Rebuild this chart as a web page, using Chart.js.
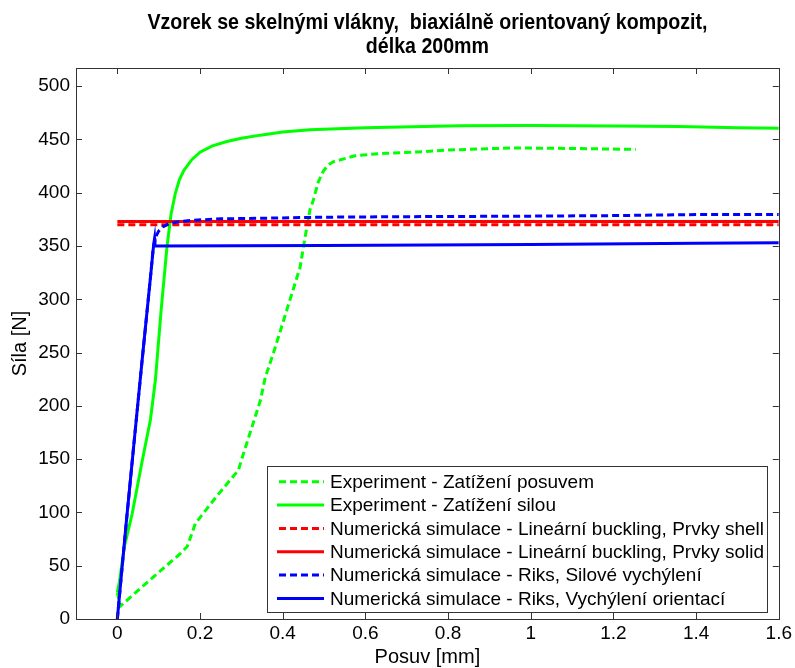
<!DOCTYPE html>
<html>
<head>
<meta charset="utf-8">
<script src="https://cdn.jsdelivr.net/npm/chart.js@4.4.1/dist/chart.umd.min.js"></script>
<style>
html,body{margin:0;padding:0;background:#fff;}
#wrap{width:795px;height:668px;position:relative;}
</style>
</head>
<body>
<div id="wrap"><canvas id="c" width="795" height="668"></canvas></div>
<script>
// ---- Data ----
const titleLines = ["Vzorek se skelnými vlákny,  biaxiálně orientovaný kompozit,", "délka 200mm"];
const xAxisLabel = "Posuv [mm]";
const yAxisLabel = "Síla [N]";
const xTicks = [0, 0.2, 0.4, 0.6, 0.8, 1.0, 1.2, 1.4, 1.6];
const yTicks = [0, 50, 100, 150, 200, 250, 300, 350, 400, 450, 500];

const seriesLabels = [
  "Experiment - Zatížení posuvem",
  "Experiment - Zatížení silou",
  "Numerická simulace - Lineární buckling, Prvky shell",
  "Numerická simulace - Lineární buckling, Prvky solid",
  "Numerická simulace - Riks, Silové vychýlení",
  "Numerická simulace - Riks, Vychýlení orientací"
];

const expPosuvX = [0, 0.007, 0.08, 0.153, 0.169, 0.189, 0.24, 0.293, 0.30, 0.346, 0.358, 0.378, 0.41, 0.442, 0.455, 0.466, 0.474, 0.486, 0.498, 0.51, 0.522, 0.55, 0.579, 0.65, 0.715, 0.8, 0.956, 1.1, 1.254];
const expPosuvY = [25, 12, 37, 61.6, 68, 89.8, 115, 139.8, 149, 205, 227, 250, 290, 330, 360, 384, 393, 410, 420, 426, 429, 432, 435, 437, 438, 440, 442, 441.5, 440.6];

const expSilouX = [0, 0.005, 0.017, 0.036, 0.06, 0.08, 0.092, 0.106, 0.12, 0.13, 0.14, 0.15, 0.161, 0.18, 0.2, 0.23, 0.265, 0.3, 0.346, 0.4, 0.466, 0.6, 0.828, 1.0, 1.2, 1.359, 1.5, 1.6];
const expSilouY = [25, 35, 68, 99, 148, 187, 224, 290, 349, 380, 399, 412, 421, 431, 438, 444, 448, 451, 454, 457, 459, 461, 462.8, 463, 462.5, 462, 461, 460.5];

const shellX = [0, 1.6];
const shellY = [370, 370];

const solidX = [0, 1.6];
const solidY = [373, 373];

const riksSilX = [0, 0.02, 0.04, 0.06, 0.08, 0.086, 0.092, 0.1, 0.11, 0.125, 0.145, 0.177, 0.25, 0.35, 0.5, 0.7, 1.0, 1.2, 1.4, 1.6];
const riksSilY = [0, 84, 164, 243, 320, 345, 358, 364, 368, 371, 372.5, 374, 375.5, 376, 377, 377.5, 378, 378.5, 379.5, 379.5];

const riksOriX = [0, 0.02, 0.04, 0.06, 0.08, 0.088, 0.09, 0.091, 0.5, 1.0, 1.4, 1.6];
const riksOriY = [0, 84, 164, 243, 320, 352, 357, 350, 350.5, 351.5, 352.5, 353];

// ---- Build datasets ----
function pts(xs, ys){ return xs.map((x,i)=>({x:x, y:ys[i]})); }
const GREEN = "#00ff00", RED = "#ff0000", BLUE = "#0000ff";
const seriesData = [
  [expPosuvX, expPosuvY, GREEN, true],
  [expSilouX, expSilouY, GREEN, false],
  [shellX, shellY, RED, true],
  [solidX, solidY, RED, false],
  [riksSilX, riksSilY, BLUE, true],
  [riksOriX, riksOriY, BLUE, false]
];
const datasets = seriesData.map((s, i) => ({
  label: seriesLabels[i],
  data: pts(s[0], s[1]),
  borderColor: s[2],
  backgroundColor: s[2],
  borderWidth: 3,
  borderDash: s[3] ? [7, 4] : [],
  pointRadius: 0,
  tension: 0,
  fill: false,
  order: seriesData.length - i
}));

const FONT = "'Liberation Sans', Arial, sans-serif";
const AXC = "#333333";

const framePlugin = {
  id: 'frame',
  afterDraw(chart){
    const ctx = chart.ctx, a = chart.chartArea;
    const xs = chart.scales.x, ys = chart.scales.y;
    ctx.save();
    // box
    ctx.strokeStyle = AXC; ctx.lineWidth = 1;
    ctx.strokeRect(Math.round(a.left)+0.5, Math.round(a.top)+0.5, Math.round(a.right-a.left), Math.round(a.bottom-a.top));
    // inward ticks
    const tl = 6;
    ctx.beginPath();
    xTicks.forEach(v => {
      const px = Math.round(xs.getPixelForValue(v)) + 0.5;
      ctx.moveTo(px, a.bottom); ctx.lineTo(px, a.bottom - tl);
      ctx.moveTo(px, a.top); ctx.lineTo(px, a.top + tl);
    });
    yTicks.forEach(v => {
      const py = Math.round(ys.getPixelForValue(v)) + 0.5;
      ctx.moveTo(a.left, py); ctx.lineTo(a.left + tl, py);
      ctx.moveTo(a.right, py); ctx.lineTo(a.right - tl, py);
    });
    ctx.stroke();

    // title (condensed bold)
    ctx.fillStyle = "#000";
    ctx.textAlign = "center"; ctx.textBaseline = "middle";
    ctx.font = "bold 22px " + FONT;
    const cx = (a.left + a.right) / 2;
    const w0 = ctx.measureText(titleLines[0]).width;
    const sx = 560 / w0;
    ctx.save();
    ctx.translate(cx, 0);
    ctx.scale(sx, 1);
    ctx.fillText(titleLines[0], 0, 23);
    ctx.fillText(titleLines[1], 0, 47);
    ctx.restore();

    // axis titles
    ctx.font = "20px " + FONT;
    ctx.fillText(xAxisLabel, cx, 657);
    ctx.save();
    ctx.translate(20, (a.top + a.bottom) / 2);
    ctx.rotate(-Math.PI / 2);
    ctx.fillText(yAxisLabel, 0, 0);
    ctx.restore();

    // legend
    const L = {x: 267, y: 466, w: 500, h: 146};
    ctx.fillStyle = "#fff";
    ctx.fillRect(L.x, L.y, L.w, L.h);
    ctx.strokeStyle = AXC; ctx.lineWidth = 1;
    ctx.strokeRect(L.x + 0.5, L.y + 0.5, L.w, L.h);
    ctx.font = "19px " + FONT;
    ctx.textAlign = "left"; ctx.textBaseline = "middle";
    chart.data.datasets.forEach((ds, i) => {
      const yy = 481.7 + i * 23.35;
      ctx.strokeStyle = ds.borderColor; ctx.lineWidth = 3;
      ctx.setLineDash(ds.borderDash.length ? [7, 4] : []);
      ctx.beginPath();
      ctx.moveTo(ds.borderDash.length ? 279 : 277, yy);
      ctx.lineTo(324, yy);
      ctx.stroke();
      ctx.setLineDash([]);
      ctx.fillStyle = "#000";
      ctx.fillText(ds.label, 330, yy + 1);
    });
    ctx.restore();
  }
};

new Chart(document.getElementById('c'), {
  type: 'line',
  data: { datasets: datasets },
  options: {
    responsive: false,
    animation: false,
    parsing: true,
    layout: { padding: { left: 0, right: 15, top: 68, bottom: 0 } },
    plugins: { legend: { display: false }, title: { display: false }, tooltip: { enabled: false } },
    scales: {
      x: {
        type: 'linear', min: -0.1, max: 1.6,
        afterFit(s){ s.height = 49; },
        afterBuildTicks(s){ s.ticks = xTicks.map(v => ({value: v})); },
        grid: { display: false, drawTicks: false },
        border: { display: false },
        ticks: { color: "#000", font: { size: 19, family: FONT }, padding: 3, maxRotation: 0,
                 callback: (v) => (v === 0 ? "0" : (Math.round(v*10)/10).toString()) }
      },
      y: {
        type: 'linear', min: 0, max: 517,
        afterFit(s){ s.width = 76; },
        afterBuildTicks(s){ s.ticks = yTicks.map(v => ({value: v})); },
        grid: { display: false, drawTicks: false },
        border: { display: false },
        ticks: { color: "#000", font: { size: 19, family: FONT }, padding: 6 }
      }
    }
  },
  plugins: [framePlugin]
});
</script>
</body>
</html>
